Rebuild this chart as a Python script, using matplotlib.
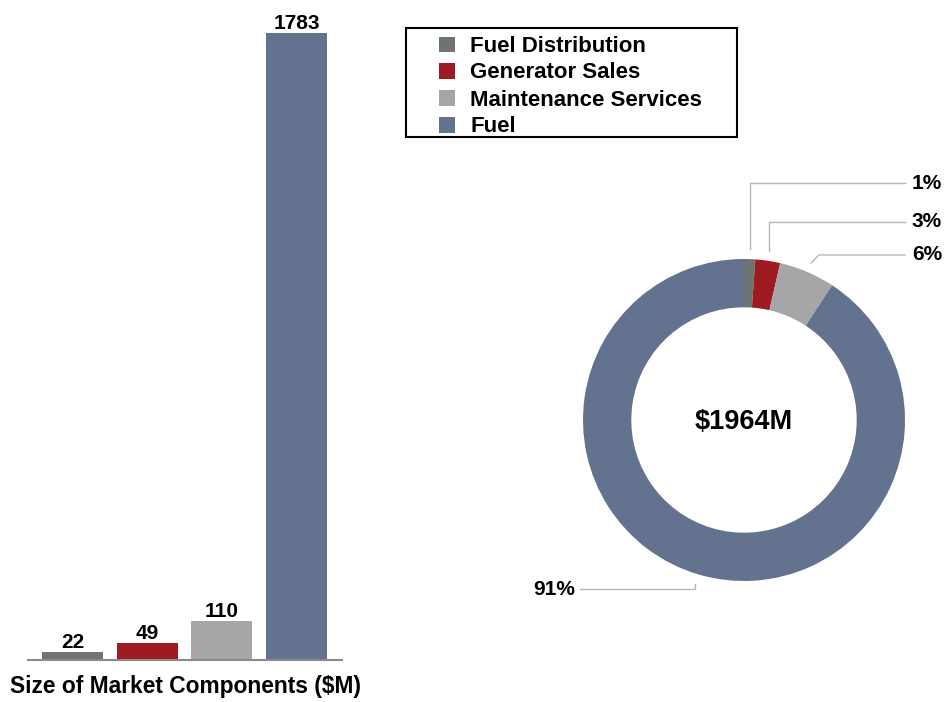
import matplotlib
matplotlib.use('Agg')
import matplotlib.pyplot as plt
from matplotlib.patches import Rectangle
import numpy as np

plt.rcParams['font.family'] = ['Liberation Sans', 'DejaVu Sans']
plt.rcParams['font.weight'] = 'bold'

# data
categories = ['Fuel Distribution', 'Generator Sales', 'Maintenance Services', 'Fuel']
values = [22, 49, 110, 1783]
pct_labels = ['1%', '3%', '6%', '91%']
colors = ['#6e7470', '#9e1b21', '#a6a6a6', '#62728f']
total_label = '$1964M'
bar_xlabel = 'Size of Market Components ($M)'

W, H = 946, 702
fig = plt.figure(figsize=(W / 100, H / 100), dpi=100)


def fx(px):
    return px / W


def fy(py):
    return 1 - py / H


# ---- bar chart ----
ax = fig.add_axes([fx(28), fy(660), (342 - 28) / W, 640 / H])
x = np.arange(len(values))
ax.bar(x, values, width=0.82, color=colors)
for xi, v in zip(x, values):
    ax.annotate(str(v), (xi, v), xytext=(0, 0), textcoords='offset points',
                ha='center', va='bottom', fontsize=15, fontweight='bold')
ax.set_xlim(-0.596, 3.609)
ax.set_ylim(0, 1783 * 640 / 627)
for s in ['top', 'right', 'left']:
    ax.spines[s].set_visible(False)
ax.spines['bottom'].set_color('#8a8a8a')
ax.spines['bottom'].set_linewidth(1.5)
ax.set_xticks([])
ax.set_yticks([])
fig.text(fx(185), fy(687), bar_xlabel, ha='center', va='center',
         fontsize=16.4, fontweight='bold')

# ---- donut ----
cx, cy, r = 744, 420, 161
ax2 = fig.add_axes([fx(cx - 1.25 * r), fy(cy + 1.25 * r), 2.5 * r / W, 2.5 * r / H])
wedges, _ = ax2.pie(values, colors=colors, startangle=90, counterclock=False,
                    radius=1.0, wedgeprops=dict(width=0.30, linewidth=0))
ax2.set_xlim(-1.25, 1.25)
ax2.set_ylim(-1.25, 1.25)
ax2.axis('off')

ax2.text(0, -0.01, total_label, ha='center', va='center', fontsize=19.5, fontweight='bold')

line_c = '#b5b5b5'
levels = [1.472, 1.230, 1.025]
dxs = [0.0, 0.0, 0.05]
for i in range(3):
    w = wedges[i]
    mid = np.deg2rad((w.theta1 + w.theta2) / 2)
    a_x, a_y = 1.06 * np.cos(mid), 1.06 * np.sin(mid)
    ax2.plot([a_x, a_x + dxs[i], 1.0], [a_y, levels[i], levels[i]],
             color=line_c, lw=1, clip_on=False)
    ax2.text(1.043, levels[i], pct_labels[i], ha='left', va='center',
             fontsize=15, fontweight='bold')

# fuel label
w = wedges[3]
mid = np.deg2rad((w.theta1 + w.theta2) / 2)
a_x, a_y = 1.06 * np.cos(mid), 1.06 * np.sin(mid)
ylev = -1.05
xend = -1.019
ax2.plot([a_x, a_x, xend], [a_y, ylev, ylev], color=line_c, lw=1, clip_on=False)
ax2.text(-1.05, ylev, pct_labels[3], ha='right', va='center',
         fontsize=15, fontweight='bold')

# ---- legend ----
fig.add_artist(Rectangle((fx(406), fy(137)), (737 - 406) / W, (137 - 28) / H,
                         transform=fig.transFigure, fill=False,
                         edgecolor='black', linewidth=1.5))
rows = [44.5, 71, 98, 125]
for cat, col, ry_ in zip(categories, colors, rows):
    fig.add_artist(Rectangle((fx(439), fy(ry_ + 7.5)), 16 / W, 15 / H,
                             transform=fig.transFigure, facecolor=col,
                             edgecolor='none'))
    fig.text(fx(470), fy(ry_ + 2), cat, ha='left', va='center',
             fontsize=16, fontweight='bold')

fig.savefig('out.png', dpi=100)
